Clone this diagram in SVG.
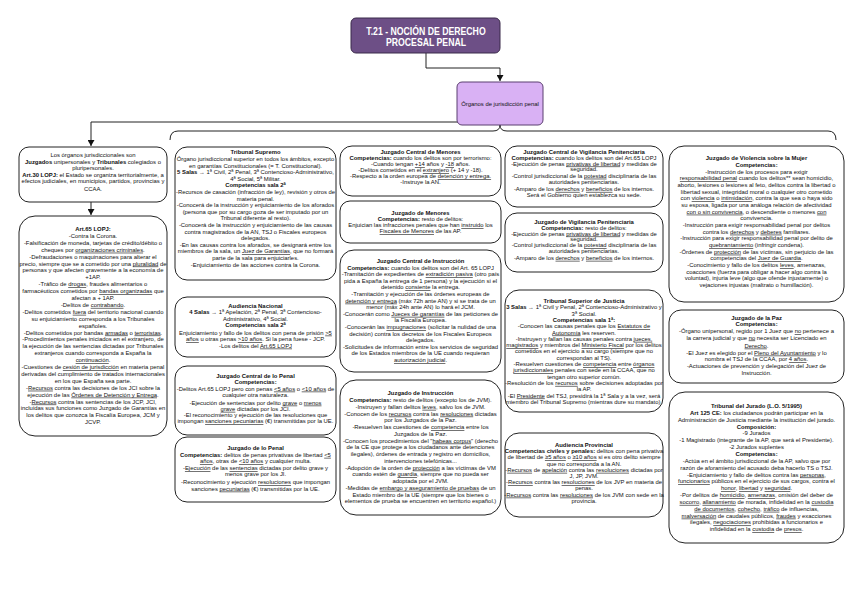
<svg xmlns="http://www.w3.org/2000/svg" width="848" height="616" viewBox="0 0 848 616">
<style>
.t{font-family:"Liberation Sans",Arial,sans-serif;font-size:5.9px;fill:#111;text-anchor:middle}
.b{font-weight:bold}
.u{text-decoration:underline}
.box{fill:#fff;stroke:#222;stroke-width:1}
.ln{fill:none;stroke:#222;stroke-width:1}
.title{font-family:"Liberation Sans",Arial,sans-serif;font-size:10.5px;font-weight:bold;fill:#fff;text-anchor:middle}
</style>
<defs>
<marker id="arr" markerUnits="userSpaceOnUse" markerWidth="7" markerHeight="7" refX="6" refY="3.5" orient="auto">
<path d="M0,0 L6,3.5 L0,7 z" fill="#111"/>
</marker>
</defs>
<rect width="848" height="616" fill="#fff"/>

<g id="connectors">
<path class="ln" d="M426 53 V68 H500 V81" marker-end="url(#arr)"/>
<path class="ln" d="M458 122 H91 V146" marker-end="url(#arr)"/>
<path class="ln" d="M91 202 V215" marker-end="url(#arr)"/>
<path class="ln" d="M170 140 Q170 131 178 131 H493 Q500 131 500 125 Q500 131 507 131 H828 Q836 131 836 140"/>
</g>

<g id="n-title">
<rect x="351" y="18" width="149" height="35" rx="5" fill="#6d4f86" stroke="#3b2a4b" stroke-width="1"/>
<text class="title" transform="translate(426 35) scale(0.83 1)">T.21 - NOCIÓN DE DERECHO</text>
<text class="title" transform="translate(426 45.5) scale(0.83 1)">PROCESAL PENAL</text>
</g>

<g id="n-organos">
<rect x="457" y="82" width="86" height="43" rx="5" fill="#d9b1f4" stroke="#5b3f70" stroke-width="1"/>
<text class="t" x="500" y="105.5">Órganos de jurisdicción penal</text>
</g>

<g id="n-organos-jur">
<rect class="box" x="19" y="147" width="148" height="55" rx="10"/>
<text class="t" x="93" y="157">Los órganos jurisdiccionales son</text>
<text class="t" x="93" y="163.6"><tspan class="b">Juzgados</tspan> unipersonales y <tspan class="b">Tribunales</tspan> colegiados o</text>
<text class="t" x="93" y="170.2">pluripersonales.</text>
<text class="t" x="93" y="176.8"><tspan class="b">Art.30 LOPJ:</tspan> el Estado se organiza territorialmente, a</text>
<text class="t" x="93" y="183.4">efectos judiciales, en municipios, partidos, provincias y</text>
<text class="t" x="93" y="190.5">CCAA.</text>
</g>

<g id="n-art65">
<rect class="box" x="19" y="216" width="148" height="220" rx="16"/>
<text class="t" x="93" y="231"><tspan class="b">Art.65 LOPJ:</tspan></text>
<text class="t" x="93" y="237.9">-Contra la Corona.</text>
<text class="t" x="93" y="244.8">-Falsificación de moneda, tarjetas de crédito/débito o</text>
<text class="t" x="93" y="251.7">cheques por <tspan class="u">organizaciones criminales</tspan>.</text>
<text class="t" x="93" y="258.6">-Defraudaciones o maquinaciones para alterar el</text>
<text class="t" x="93" y="265.5">precio, siempre que se a cometido por una <tspan class="u">pluralidad</tspan> de</text>
<text class="t" x="93" y="272.4">personas y que afecten gravemente a la economía de</text>
<text class="t" x="93" y="279.3">+1AP.</text>
<text class="t" x="93" y="286.2">-Tráfico de <tspan class="u">drogas</tspan>, fraudes alimentarios o</text>
<text class="t" x="93" y="293.1">farmacéuticos cometidos por <tspan class="u">bandas organizadas</tspan> que</text>
<text class="t" x="93" y="300">afectan a + 1AP.</text>
<text class="t" x="93" y="306.9">-Delitos de <tspan class="u">contrabando</tspan>.</text>
<text class="t" x="93" y="313.8">-Delitos cometidos <tspan class="u">fuera</tspan> del territorio nacional cuando</text>
<text class="t" x="93" y="320.7">su enjuiciamiento corresponda a los Tribunales</text>
<text class="t" x="93" y="327.6">españoles.</text>
<text class="t" x="93" y="334.5">-Delitos cometidos por bandas <tspan class="u">armadas</tspan> o <tspan class="u">terroristas</tspan>.</text>
<text class="t" x="93" y="341.4">-Procedimientos penales iniciados en el extranjero, de</text>
<text class="t" x="93" y="348.3">la ejecución de las sentencias dictadas por Tribunales</text>
<text class="t" x="93" y="355.2">extranjeros cuando corresponda a España la</text>
<text class="t" x="93" y="362.1"><tspan class="u">continuación</tspan>.</text>
<text class="t" x="93" y="369">-Cuestiones de <tspan class="u">cesión de jurisdicción</tspan> en materia penal</text>
<text class="t" x="93" y="375.9">derivadas del cumplimiento de tratados internacionales</text>
<text class="t" x="93" y="382.8">en los que España sea parte.</text>
<text class="t" x="93" y="389.7">-<tspan class="u">Recursos</tspan> contra las decisiones de los JCI sobre la</text>
<text class="t" x="93" y="396.6">ejecución de las <tspan class="u">Órdenes de Detención y Entrega</tspan>.</text>
<text class="t" x="93" y="403.5">-<tspan class="u">Recursos</tspan> contra las sentencias de los JCP, JCI,</text>
<text class="t" x="93" y="410.4">incluidas sus funciones como Juzgado de Garantías en</text>
<text class="t" x="93" y="417.3">los delitos que conozca la Fiscalía Europea, JCM y</text>
<text class="t" x="93" y="424.2">JCVP.</text>
</g>

<g id="n-ts">
<rect class="box" x="175" y="147" width="161" height="133" rx="12"/>
<text class="t" x="255.5" y="154.3"><tspan class="b">Tribunal Supremo</tspan></text>
<text class="t" x="255.5" y="160.9">Órgano jurisdiccional superior en todos los ámbitos, excepto</text>
<text class="t" x="255.5" y="167.5">en garantías Constitucionales (= T. Constitucional).</text>
<text class="t" x="255.5" y="174.1"><tspan class="b">5 Salas</tspan> → 1ª Civil, 2ª Penal, 3ª Contencioso-Administrativo,</text>
<text class="t" x="255.5" y="180.7">4ª Social, 5ª Militar.</text>
<text class="t" x="255.5" y="187.3"><tspan class="b">Competencias sala 2ª</tspan></text>
<text class="t" x="255.5" y="193.9">-Recursos de casación (infracción de ley), revisión y otros de</text>
<text class="t" x="255.5" y="200.5">materia penal.</text>
<text class="t" x="255.5" y="207.1">-Conocerá de la instrucción y enjuiciamiento de los aforados</text>
<text class="t" x="255.5" y="213.7">(persona que por su cargo goza de ser imputado por un</text>
<text class="t" x="255.5" y="220.3">Tribunal diferente al resto).</text>
<text class="t" x="255.5" y="226.9">-Conocerá de la instrucción y enjuiciamiento de las causas</text>
<text class="t" x="255.5" y="233.5">contra magistrados de la AN, TSJ o Fiscales europeos</text>
<text class="t" x="255.5" y="240.1">delegados.</text>
<text class="t" x="255.5" y="246.7">-En las causas contra los aforados, se designará entre los</text>
<text class="t" x="255.5" y="253.3">miembros de la sala, un <tspan class="u">Juez de Garantías</tspan>, que no formará</text>
<text class="t" x="255.5" y="259.9">parte de la sala para enjuiciarles.</text>
<text class="t" x="255.5" y="266.5">-Enjuiciamiento de las acciones contra la Corona.</text>
</g>

<g id="n-an">
<rect class="box" x="175" y="297" width="161" height="60" rx="12"/>
<text class="t" x="255.5" y="308"><tspan class="b">Audiencia Nacional</tspan></text>
<text class="t" x="255.5" y="314.4"><tspan class="b">4 Salas</tspan> → 1ª Apelación, 2ª Penal, 3ª Contencioso-</text>
<text class="t" x="255.5" y="320.8">Administrativo, 4ª Social.</text>
<text class="t" x="255.5" y="327.2"><tspan class="b">Competencias sala 2ª</tspan></text>
<text class="t" x="255.5" y="334.6">Enjuiciamiento y fallo de los delitos con pena de prisión <tspan class="u">&gt;5</tspan></text>
<text class="t" x="255.5" y="341"><tspan class="u">años</tspan> u otras penas <tspan class="u">&gt;10 años</tspan>. Si la pena fuese - JCP.</text>
<text class="t" x="255.5" y="347.6">-Los delitos del <tspan class="u">Art.65 LOPJ</tspan></text>
</g>

<g id="n-jcp">
<rect class="box" x="175" y="366" width="161" height="69" rx="12"/>
<text class="t" x="255.5" y="378"><tspan class="b">Juzgado Central de lo Penal</tspan></text>
<text class="t" x="255.5" y="384.2"><tspan class="b">Competencias:</tspan></text>
<text class="t" x="255.5" y="390.6">-Delitos Art.65 LOPJ pero con penas <tspan class="u">&lt;5 años</tspan> o <tspan class="u">&lt;10 años</tspan> de</text>
<text class="t" x="255.5" y="396.8">cualquier otra naturaleza.</text>
<text class="t" x="255.5" y="404.6">-Ejecución de sentencias por delito <tspan class="u">grave</tspan> o <tspan class="u">menos</tspan></text>
<text class="t" x="255.5" y="410.8"><tspan class="u">grave</tspan> dictadas por los JCI.</text>
<text class="t" x="255.5" y="417.2">-El reconocimiento y ejecución de las resoluciones que</text>
<text class="t" x="255.5" y="423.4">impongan <tspan class="u">sanciones pecuniarias</tspan> (€) transmitidas por la UE.</text>
</g>

<g id="n-jp">
<rect class="box" x="175" y="437" width="161" height="65" rx="12"/>
<text class="t" x="255.5" y="450"><tspan class="b">Juzgado de lo Penal</tspan></text>
<text class="t" x="255.5" y="456.8"><tspan class="b">Competencias:</tspan> delitos de penas privativas de libertad <tspan class="u">&lt;5</tspan></text>
<text class="t" x="255.5" y="463.4"><tspan class="u">años</tspan>, otras de <tspan class="u">&lt;10 años</tspan> y cualquier multa.</text>
<text class="t" x="255.5" y="470">-<tspan class="u">Ejecución</tspan> de las <tspan class="u">sentencias</tspan> dictadas por delito grave y</text>
<text class="t" x="255.5" y="476.3">menos grave por los JI.</text>
<text class="t" x="255.5" y="484.2">-Reconocimiento y ejecución <tspan class="u">resoluciones</tspan> que impongan</text>
<text class="t" x="255.5" y="490.6">sanciones <tspan class="u">pecuniarias</tspan> (€) transmitidas por la UE.</text>
</g>

<g id="n-jcm">
<rect class="box" x="340" y="146" width="161" height="50" rx="12"/>
<text class="t" x="420.5" y="154.3"><tspan class="b">Juzgado Central de Menores</tspan></text>
<text class="t" x="420.5" y="160.3"><tspan class="b">Competencias:</tspan> cuando los delitos son por terrorismo:</text>
<text class="t" x="420.5" y="166.2">-Cuando tengan <tspan class="u">+14</tspan> años y <tspan class="u">-18</tspan> años.</text>
<text class="t" x="420.5" y="172.1">-Delitos cometidos en el <tspan class="u">extranjero</tspan> (+ 14 y -18).</text>
<text class="t" x="420.5" y="178">-Respecto a la orden europea de <tspan class="u">detención y entrega.</tspan></text>
<text class="t" x="420.5" y="183.9">-Instruye la AN.</text>
</g>

<g id="n-jm">
<rect class="box" x="340" y="201" width="161" height="42" rx="10"/>
<text class="t" x="420.5" y="215.3"><tspan class="b">Juzgado de Menores</tspan></text>
<text class="t" x="420.5" y="221.1"><tspan class="b">Competencias:</tspan> resto de delitos:</text>
<text class="t" x="420.5" y="227.1">Enjuician las infracciones penales que han <tspan class="u">instruido</tspan> los</text>
<text class="t" x="420.5" y="233.1"><tspan class="u">Fiscales de Menores</tspan> de las AP.</text>
</g>

<g id="n-jci">
<rect class="box" x="340" y="250" width="161" height="122" rx="14"/>
<text class="t" x="420.5" y="263"><tspan class="b">Juzgado Central de Instrucción</tspan></text>
<text class="t" x="420.5" y="269.6"><tspan class="b">Competencias:</tspan> cuando los delitos son del Art. 65 LOPJ</text>
<text class="t" x="420.5" y="276.2">-Tramitación de expedientes de <tspan class="u">extradición pasiva</tspan> (otro país</text>
<text class="t" x="420.5" y="282.8">pida a España la entrega de 1 persona) y la ejecución si el</text>
<text class="t" x="420.5" y="289.4">detenido <tspan class="u">consiente</tspan> la entrega.</text>
<text class="t" x="420.5" y="296">-Tramitación y ejecución de las órdenes europeas de</text>
<text class="t" x="420.5" y="302.6"><tspan class="u">detención y entrega</tspan> (máx 72h ante AN) y si se trata de un</text>
<text class="t" x="420.5" y="309.2">menor (máx 24h ante AN) lo hará el JCM.</text>
<text class="t" x="420.5" y="315.8">-Conocerán como <tspan class="u">Jueces de garantías</tspan> de las peticiones de</text>
<text class="t" x="420.5" y="322.4">la Fiscalía Europea.</text>
<text class="t" x="420.5" y="329">-Conocerán las <tspan class="u">impugnaciones</tspan> (solicitar la nulidad de una</text>
<text class="t" x="420.5" y="335.6">decisión) contra los decretos de los Fiscales Europeos</text>
<text class="t" x="420.5" y="342.2">delegados.</text>
<text class="t" x="420.5" y="348.8">-Solicitudes de información entre los servicios de seguridad</text>
<text class="t" x="420.5" y="355.4">de los Estados miembros de la UE cuando requieran</text>
<text class="t" x="420.5" y="362"><tspan class="u">autorización judicial</tspan>.</text>
</g>

<g id="n-ji">
<rect class="box" x="340" y="380" width="161" height="135" rx="16"/>
<text class="t" x="420.5" y="395.3"><tspan class="b">Juzgado de Instrucción</tspan></text>
<text class="t" x="420.5" y="402.05"><tspan class="b">Competencias:</tspan> resto de delitos (excepto los de JVM).</text>
<text class="t" x="420.5" y="408.8">-Instruyen y fallan delitos <tspan class="u">leves</tspan>, salvo los de JVM.</text>
<text class="t" x="420.5" y="415.55">-Conocen de los <tspan class="u">recursos</tspan> contra las <tspan class="u">resoluciones</tspan> dictadas</text>
<text class="t" x="420.5" y="422.3">por los Juzgados de la Paz.</text>
<text class="t" x="420.5" y="429.05">-Resuelven las cuestiones de <tspan class="u">competencia</tspan> entre los</text>
<text class="t" x="420.5" y="435.8">Juzgados de la Paz.</text>
<text class="t" x="420.5" y="442.55">-Conocen los procedimientos del "<tspan class="u">habeas corpus</tspan>" (derecho</text>
<text class="t" x="420.5" y="449.3">de la CE que protege a los ciudadanos ante detenciones</text>
<text class="t" x="420.5" y="456.05">ilegales), órdenes de entrada y registro en domicilios,</text>
<text class="t" x="420.5" y="462.8">intervenciones telefónicas...</text>
<text class="t" x="420.5" y="469.55">-Adopción de la orden de <tspan class="u">protección</tspan> a las víctimas de VM</text>
<text class="t" x="420.5" y="476.3">cuando estén de <tspan class="u">guardia</tspan>, siempre que no pueda ser</text>
<text class="t" x="420.5" y="483.05">adoptada por el JVM.</text>
<text class="t" x="420.5" y="489.8">-Medidas de <tspan class="u">embargo y aseguramiento de pruebas</tspan> de un</text>
<text class="t" x="420.5" y="496.55">Estado miembro de la UE (siempre que los bienes o</text>
<text class="t" x="420.5" y="503.3">elementos de prueba se encuentren en territorio español.)</text>
</g>

<g id="n-jcvp">
<rect class="box" x="505" y="146" width="158" height="61" rx="12"/>
<text class="t" x="584" y="154.3"><tspan class="b">Juzgado Central de Vigilancia Penitenciaria</tspan></text>
<text class="t" x="584" y="159.9"><tspan class="b">Competencias:</tspan> cuando los delitos son del Art.65 LOPJ</text>
<text class="t" x="584" y="165.5">-Ejecución de penas <tspan class="u">privativas de libertad</tspan> y medidas de</text>
<text class="t" x="584" y="171.1">seguridad.</text>
<text class="t" x="584" y="177.7">-Control jurisdiccional de la <tspan class="u">potestad</tspan> disciplinaria de las</text>
<text class="t" x="584" y="183.7">autoridades penitenciarias.</text>
<text class="t" x="584" y="190.9">-Amparo de los <tspan class="u">derechos</tspan> y <tspan class="u">beneficios</tspan> de los internos.</text>
<text class="t" x="584" y="196.9">Será el Gobierno quien establezca su sede.</text>
</g>

<g id="n-jvp">
<rect class="box" x="505" y="213" width="158" height="59" rx="12"/>
<text class="t" x="584" y="224.3"><tspan class="b">Juzgado de Vigilancia Penitenciaria</tspan></text>
<text class="t" x="584" y="229.9"><tspan class="b">Competencias:</tspan> resto de delitos:</text>
<text class="t" x="584" y="235.5">-Ejecución de penas <tspan class="u">privativas de libertad</tspan> y medidas de</text>
<text class="t" x="584" y="241.1">seguridad.</text>
<text class="t" x="584" y="247.2">-Control jurisdiccional de la <tspan class="u">potestad</tspan> disciplinaria de las</text>
<text class="t" x="584" y="253.2">autoridades penitenciarias.</text>
<text class="t" x="584" y="259.8">-Amparo de los <tspan class="u">derechos</tspan> y <tspan class="u">beneficios</tspan> de los internos.</text>
</g>

<g id="n-tsj">
<rect class="box" x="505" y="290" width="158" height="122" rx="14"/>
<text class="t" x="584" y="303"><tspan class="b">Tribunal Superior de Justicia</tspan></text>
<text class="t" x="584" y="309.3"><tspan class="b">3 Salas</tspan> → 1ª Civil y Penal, 2ª Contencioso-Administrativo y</text>
<text class="t" x="584" y="315.6">3ª Social.</text>
<text class="t" x="584" y="321.9"><tspan class="b">Competencias sala 1ª:</tspan></text>
<text class="t" x="584" y="328.2">-Conocen las causas penales que los <tspan class="u">Estatutos de</tspan></text>
<text class="t" x="584" y="334.5"><tspan class="u">Autonomía</tspan> les reserven.</text>
<text class="t" x="584" y="340.8">-Instruyen y fallan las causas penales contra <tspan class="u">jueces,</tspan></text>
<text class="t" x="584" y="347.1"><tspan class="u">magistrados</tspan> y miembros del <tspan class="u">Ministerio Fiscal</tspan> por los delitos</text>
<text class="t" x="584" y="353.4">cometidos en el ejercicio a su cargo (siempre que no</text>
<text class="t" x="584" y="359.7">correspondan al TS).</text>
<text class="t" x="584" y="366">-Resuelven cuestiones de <tspan class="u">competencia</tspan> entre <tspan class="u">órganos</tspan></text>
<text class="t" x="584" y="372.3"><tspan class="u">jurisdiccionales</tspan> penales con sede en la CCAA, que no</text>
<text class="t" x="584" y="378.6">tengan otro superior común.</text>
<text class="t" x="584" y="384.9">-Resolución de los <tspan class="u">recursos</tspan> sobre decisiones adoptadas por</text>
<text class="t" x="584" y="391.2">la AP.</text>
<text class="t" x="584" y="397.5">-El <tspan class="u">Presidente</tspan> del TSJ, presidirá la 1ª Sala y a la vez, será</text>
<text class="t" x="584" y="403.8">miembro del Tribunal Supremo (mientras dure su mandato).</text>
</g>

<g id="n-ap">
<rect class="box" x="505" y="433" width="158" height="84" rx="14"/>
<text class="t" x="584" y="447"><tspan class="b">Audiencia Provincial</tspan></text>
<text class="t" x="584" y="453.2"><tspan class="b">Competencias civiles y penales:</tspan> delitos con pena privativa</text>
<text class="t" x="584" y="459.4">de libertad de <tspan class="u">≥5 años</tspan> o <tspan class="u">≥10 años</tspan> si es otro delito siempre</text>
<text class="t" x="584" y="465.6">que no corresponda a la AN.</text>
<text class="t" x="584" y="471.8">-<tspan class="u">Recursos</tspan> de <tspan class="u">apelación</tspan> contra las <tspan class="u">resoluciones</tspan> dictadas por</text>
<text class="t" x="584" y="478">J, JP, JVM.</text>
<text class="t" x="584" y="484.2">-<tspan class="u">Recursos</tspan> contra las <tspan class="u">resoluciones</tspan> de los JVP en materia de</text>
<text class="t" x="584" y="490.4">penas.</text>
<text class="t" x="584" y="496.6">-<tspan class="u">Recursos</tspan> contra las <tspan class="u">resoluciones</tspan> de los JVM con sede en la</text>
<text class="t" x="584" y="502.8">provincia.</text>
</g>

<g id="n-jvm">
<rect class="box" x="669" y="146" width="175" height="156" rx="15"/>
<text class="t" x="756.5" y="160.3"><tspan class="b">Juzgado de Violencia sobre la Mujer</tspan></text>
<text class="t" x="756.5" y="166.97"><tspan class="b">Competencias:</tspan></text>
<text class="t" x="756.5" y="173.64">-Instrucción de los procesos para exigir</text>
<text class="t" x="756.5" y="180.31"><tspan class="u">responsabilidad penal</tspan> cuando los delitos** sean homicidio,</text>
<text class="t" x="756.5" y="186.98">aborto, lesiones o lesiones al feto, delitos contra la libertad o</text>
<text class="t" x="756.5" y="193.65">libertad sexual, integridad moral o cualquier otro cometido</text>
<text class="t" x="756.5" y="200.32">con <tspan class="u">violencia</tspan> o <tspan class="u">intimidación</tspan>, contra la que sea o haya sido</text>
<text class="t" x="756.5" y="206.99">su esposa, ligada por una análoga relación de afectividad</text>
<text class="t" x="756.5" y="213.66"><tspan class="u">con o sin convivencia</tspan>, o descendiente o menores <tspan class="u">con</tspan></text>
<text class="t" x="756.5" y="220.33">convivencia.</text>
<text class="t" x="756.5" y="227">-Instrucción para exigir responsabilidad penal por delitos</text>
<text class="t" x="756.5" y="233.67">contra los <tspan class="u">derechos</tspan> y <tspan class="u">deberes</tspan> familiares.</text>
<text class="t" x="756.5" y="240.34">-Instrucción para exigir responsabilidad penal por delito de</text>
<text class="t" x="756.5" y="247.01"><tspan class="u">quebrantamiento</tspan> (infringir condena).</text>
<text class="t" x="756.5" y="253.68">-Órdenes de <tspan class="u">protección</tspan> de las víctimas, sin perjuicio de las</text>
<text class="t" x="756.5" y="260.35">competencias del <tspan class="u">Juez de Guardia</tspan>.</text>
<text class="t" x="756.5" y="267.02">-Conocimiento y fallo de los delitos <tspan class="u">leves</tspan>, amenazas,</text>
<text class="t" x="756.5" y="273.69">coacciones (fuerza para obligar a hacer algo contra la</text>
<text class="t" x="756.5" y="280.36">voluntad), injuria leve (algo que ofende injustamente) o</text>
<text class="t" x="756.5" y="287.03">vejaciones injustas (maltrato o humillación).</text>
</g>

<g id="n-jpaz">
<rect class="box" x="669" y="310" width="175" height="73" rx="12"/>
<text class="t" x="756.5" y="320.3"><tspan class="b">Juzgado de la Paz</tspan></text>
<text class="t" x="756.5" y="326.3"><tspan class="b">Competencias:</tspan></text>
<text class="t" x="756.5" y="333">-Órgano unipersonal, regido por 1 Juez que <tspan class="u">no</tspan> pertenece a</text>
<text class="t" x="756.5" y="339.5">la carrera judicial y que <tspan class="u">no</tspan> necesita ser Licenciado en</text>
<text class="t" x="756.5" y="347.6"><tspan class="u">Derecho</tspan>.</text>
<text class="t" x="756.5" y="354.6">-El Juez es elegido por el <tspan class="u">Pleno del Ayuntamiento</tspan> y lo</text>
<text class="t" x="756.5" y="361">nombra el TSJ de la CCAA, por <tspan class="u">4 años</tspan>.</text>
<text class="t" x="756.5" y="367.7">-Actuaciones de prevención y delegación del Juez de</text>
<text class="t" x="756.5" y="374.5">Instrucción.</text>
</g>

<g id="n-jurado">
<rect class="box" x="669" y="392" width="175" height="151" rx="16"/>
<text class="t" x="756.5" y="408"><tspan class="b">Tribunal del Jurado (L.O. 5/1995)</tspan></text>
<text class="t" x="756.5" y="414.85"><tspan class="b">Art 125 CE:</tspan> los ciudadanos podrán participar en la</text>
<text class="t" x="756.5" y="421.7">Administración de Justicia mediante la institución del jurado.</text>
<text class="t" x="756.5" y="428.55"><tspan class="b">Composición:</tspan></text>
<text class="t" x="756.5" y="435.4">-9 Jurados</text>
<text class="t" x="756.5" y="442.25">-1 Magistrado (integrante de la AP, que será el Presidente).</text>
<text class="t" x="756.5" y="449.1">-2 Jurados suplentes</text>
<text class="t" x="756.5" y="455.95"><tspan class="b">Competencias:</tspan></text>
<text class="t" x="756.5" y="462.8">-Actúa en el ámbito jurisdiccional de la AP, salvo que por</text>
<text class="t" x="756.5" y="469.65">razón de aforamiento del acusado deba hacerlo TS o TSJ.</text>
<text class="t" x="756.5" y="476.5">-Enjuiciamiento y fallo de delitos contra las <tspan class="u">personas</tspan>,</text>
<text class="t" x="756.5" y="483.35"><tspan class="u">funcionarios</tspan> públicos en el ejercicio de sus cargos, contra el</text>
<text class="t" x="756.5" y="490.2"><tspan class="u">honor</tspan>, <tspan class="u">libertad</tspan> y <tspan class="u">seguridad</tspan>.</text>
<text class="t" x="756.5" y="497.05">-Por delitos de <tspan class="u">homicidio</tspan>, <tspan class="u">amenazas</tspan>, omisión del deber de</text>
<text class="t" x="756.5" y="503.9"><tspan class="u">socorro</tspan>, <tspan class="u">allanamiento</tspan> de morada, infidelidad en la <tspan class="u">custodia</tspan></text>
<text class="t" x="756.5" y="510.75"><tspan class="u">de documentos</tspan>, <tspan class="u">cohecho</tspan>, <tspan class="u">tráfico</tspan> de influencias,</text>
<text class="t" x="756.5" y="517.6"><tspan class="u">malversación</tspan> de caudales públicos, <tspan class="u">fraudes</tspan> y exacciones</text>
<text class="t" x="756.5" y="524.45">ilegales, <tspan class="u">negociaciones</tspan> prohibidas a funcionarios e</text>
<text class="t" x="756.5" y="531.3">infidelidad en la <tspan class="u">custodia</tspan> de <tspan class="u">presos</tspan>.</text>
</g>
</svg>
